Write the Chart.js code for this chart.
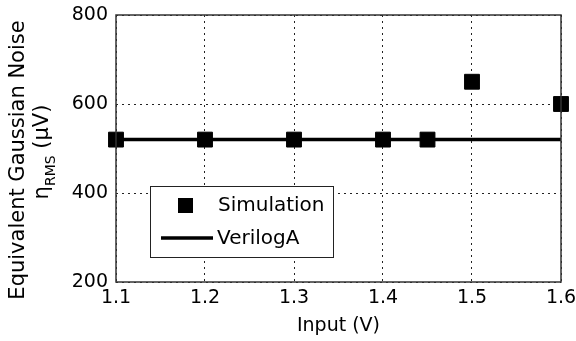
<!DOCTYPE html>
<html>
<head>
<meta charset="utf-8">
<script src="https://cdn.jsdelivr.net/npm/chart.js@4"></script>
<style>
  body { margin: 0; background: #fff; }
  #wrap { width: 576px; height: 341px; }
</style>
</head>
<body>
<div id="wrap"><canvas id="chart" width="576" height="341"></canvas></div>
<script>
// simulated noise points
const inputV = [1.1, 1.2, 1.3, 1.4, 1.45, 1.5, 1.6];
const simNoise = [520, 520, 520, 520, 520, 650, 600];
// VerilogA model line
const veriInput = [1.1, 1.6];
const veriNoise = [520, 520];
const xTicks = [1.1, 1.2, 1.3, 1.4, 1.5, 1.6];
const yTicks = [200, 400, 600, 800];

const FONT = 'DejaVu Sans';

// box around the axes, like matlab
const boxPlugin = {
    id: 'box',
    afterDraw(chart) {
        const { ctx, chartArea: a } = chart;
        ctx.save();
        ctx.strokeStyle = '#333';
        ctx.lineWidth = 1.5;
        ctx.strokeRect(a.left, a.top, a.right - a.left, a.bottom - a.top);
        ctx.restore();
    }
};

// legend drawn inside plot area (bottom left)
const insideLegend = {
    id: 'insideLegend',
    afterDraw(chart) {
        const ctx = chart.ctx;
        const ds = chart.data.datasets;
        const x = 150, y = 186, w = 183, h = 71;
        ctx.save();
        ctx.fillStyle = '#fff';
        ctx.fillRect(x, y, w, h);
        ctx.strokeStyle = '#222';
        ctx.lineWidth = 1;
        ctx.strokeRect(x + 0.5, y + 0.5, w, h);

        ctx.font = '20px ' + FONT;
        ctx.textBaseline = 'middle';
        ctx.fillStyle = '#000';

        // Simulation
        ctx.fillRect(178, 198, 15, 15);
        ctx.fillText(ds[0].label, 218, 206);

        // VerilogA
        ctx.strokeStyle = '#000';
        ctx.lineWidth = 3.5;
        ctx.beginPath();
        ctx.moveTo(161, 238);
        ctx.lineTo(213, 238);
        ctx.stroke();
        ctx.fillText(ds[1].label, 217, 239);
        ctx.restore();
    }
};

// y title with subscript
const yTitle = {
    id: 'yTitle',
    afterDraw(chart) {
        const ctx = chart.ctx;
        ctx.save();
        ctx.fillStyle = '#000';
        ctx.textBaseline = 'middle';

        ctx.translate(19, 160);
        ctx.rotate(-Math.PI / 2);
        ctx.font = '21px ' + FONT;
        ctx.textAlign = 'center';
        ctx.fillText('Equivalent Gaussian Noise', 0, 0);
        ctx.restore();

        ctx.save();
        ctx.fillStyle = '#000';
        ctx.textBaseline = 'middle';
        ctx.translate(43, 152);
        ctx.rotate(-Math.PI / 2);
        const big = '21px ' + FONT, small = '14px ' + FONT;
        const parts = [['η', big, 0], ['RMS', small, 8], [' (μV)', big, 0]];
        let total = 0;
        for (const p of parts) { ctx.font = p[1]; total += ctx.measureText(p[0]).width; }
        let cx = -total / 2;
        ctx.textAlign = 'left';
        for (const p of parts) {
            ctx.font = p[1];
            ctx.fillText(p[0], cx, p[2]);
            cx += ctx.measureText(p[0]).width;
        }
        ctx.restore();
    }
};

const dotted = {
    color: '#222',
    lineWidth: 1,
    drawTicks: false
};

const chart = new Chart(document.getElementById('chart'), {
    type: 'scatter',
    data: {
        datasets: [
            {
                label: 'Simulation',
                data: inputV.map((v, i) => ({ x: v, y: simNoise[i] })),
                showLine: false,
                pointStyle: 'rect',
                pointRadius: 10.5,
                borderWidth: 1,
                backgroundColor: '#000',
                borderColor: '#000',
                clip: false
            },
            {
                label: 'VerilogA',
                data: veriInput.map((v, i) => ({ x: v, y: veriNoise[i] })),
                showLine: true,
                pointRadius: 0,
                borderColor: '#000',
                borderWidth: 3.5
            }
        ]
    },
    options: {
        responsive: false,
        animation: false,
        layout: { padding: { left: 0, right: 15, top: 15, bottom: 0 } },
        plugins: {
            legend: { display: false },
            tooltip: { enabled: false }
        },
        scales: {
            x: {
                type: 'linear',
                min: 1.1,
                max: 1.6,
                afterBuildTicks: s => { s.ticks = xTicks.map(v => ({ value: v })); },
                afterFit: s => { s.height = 59; s.paddingLeft = 0; s.paddingRight = 0; },
                grid: dotted,
                border: { display: false, dash: [2, 4] },
                ticks: {
                    color: '#000',
                    padding: 5,
                    font: { family: FONT, size: 19 },
                    callback: v => Number(v).toFixed(1)
                },
                title: {
                    display: true,
                    text: 'Input (V)',
                    color: '#000',
                    font: { family: FONT, size: 19 },
                    padding: { top: 0, bottom: 4 }
                }
            },
            y: {
                min: 200,
                max: 800,
                afterBuildTicks: s => { s.ticks = yTicks.map(v => ({ value: v })); },
                afterFit: s => { s.width = 116; s.paddingTop = 0; s.paddingBottom = 0; },
                grid: dotted,
                border: { display: false, dash: [2, 4] },
                ticks: {
                    color: '#000',
                    padding: 8,
                    font: { family: FONT, size: 19 }
                }
            }
        }
    },
    plugins: [boxPlugin, insideLegend, yTitle]
});
</script>
</body>
</html>
